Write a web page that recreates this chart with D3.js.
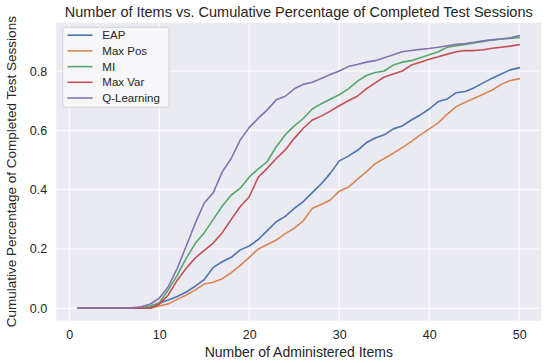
<!DOCTYPE html>
<html><head><meta charset="utf-8">
<script src="https://cdn.jsdelivr.net/npm/d3@7"></script>
<style>body{margin:0;background:#fff;} text{font-family:"Liberation Sans",Arial,sans-serif;}</style>
</head><body><svg id="c" width="547" height="363"></svg>
<script>
const items = d3.range(1, 51);
const seriesNames = ["EAP","Max Pos","MI","Max Var","Q-Learning"];
const colors = ["#4c72b0","#dd8452","#55a868","#c44e52","#8172b3"];
const eap = [0,0,0,0,0,0,0,0,0.003,0.017,0.028,0.04,0.055,0.075,0.097,0.138,0.157,0.172,0.197,0.21,0.232,0.262,0.292,0.31,0.337,0.36,0.39,0.42,0.455,0.497,0.513,0.532,0.558,0.574,0.585,0.605,0.615,0.635,0.652,0.672,0.697,0.706,0.727,0.731,0.744,0.76,0.776,0.79,0.804,0.811];
const maxPos = [0,0,0,0,0,0,0,0,0,0.008,0.015,0.03,0.045,0.062,0.082,0.088,0.1,0.12,0.145,0.172,0.2,0.215,0.23,0.252,0.27,0.295,0.337,0.35,0.365,0.395,0.408,0.435,0.46,0.488,0.505,0.523,0.542,0.562,0.585,0.605,0.625,0.655,0.68,0.695,0.708,0.722,0.736,0.755,0.768,0.774];
const mi = [0,0,0,0,0,0,0,0.002,0.008,0.019,0.062,0.112,0.169,0.219,0.255,0.3,0.345,0.382,0.405,0.443,0.47,0.495,0.545,0.585,0.615,0.64,0.672,0.69,0.705,0.72,0.74,0.765,0.785,0.795,0.80,0.82,0.83,0.835,0.845,0.855,0.865,0.88,0.885,0.89,0.895,0.9,0.905,0.908,0.91,0.913];
const maxVar = [0,0,0,0,0,0,0,0,0,0.014,0.045,0.095,0.135,0.17,0.195,0.22,0.255,0.3,0.343,0.376,0.442,0.472,0.505,0.534,0.573,0.607,0.635,0.648,0.665,0.683,0.70,0.715,0.74,0.76,0.78,0.79,0.80,0.82,0.83,0.84,0.848,0.857,0.865,0.869,0.869,0.872,0.877,0.88,0.884,0.889];
const qLearning = [0,0,0,0,0,0,0.002,0.005,0.0145,0.034,0.073,0.135,0.21,0.287,0.355,0.39,0.46,0.506,0.568,0.61,0.641,0.669,0.703,0.715,0.74,0.755,0.762,0.775,0.788,0.80,0.815,0.822,0.83,0.835,0.845,0.855,0.865,0.869,0.873,0.876,0.88,0.885,0.89,0.893,0.897,0.902,0.905,0.908,0.912,0.919];
const xTicks = [0,10,20,30,40,50];
const yTicks = [0,0.2,0.4,0.6,0.8];
const allSeries = [eap, maxPos, mi, maxVar, qLearning];

const svg = d3.select("#c");
const L = 56.25, R = 541.3, T = 22.7, B = 320.7;
const x = d3.scaleLinear().domain([-1.45, 52.45]).range([L, R]);
const y = d3.scaleLinear().domain([-0.0418, 0.963]).range([B, T]);

svg.append("rect").attr("x", L).attr("y", T).attr("width", R-L).attr("height", B-T).attr("fill", "#eaeaf2");
const g = svg.append("g");
g.selectAll(".vg").data(xTicks).join("line").attr("x1", d=>x(d)).attr("x2", d=>x(d)).attr("y1", T).attr("y2", B).attr("stroke", "#fff").attr("stroke-width", 1);
g.selectAll(".hg").data(yTicks).join("line").attr("y1", d=>y(d)).attr("y2", d=>y(d)).attr("x1", L).attr("x2", R).attr("stroke", "#fff").attr("stroke-width", 1);

const xAxis = svg.append("g").attr("transform", `translate(0,${B})`).call(d3.axisBottom(x).tickValues(xTicks).tickSize(0).tickPadding(9).tickFormat(d3.format("d")));
const yAxis = svg.append("g").attr("transform", `translate(${L},0)`).call(d3.axisLeft(y).tickValues(yTicks).tickSize(0).tickPadding(9).tickFormat(d3.format(".1f")));
[xAxis, yAxis].forEach(a => { a.select(".domain").remove(); a.selectAll("text").attr("font-size", 12.5).attr("fill", "#262626").style("font-family", "Liberation Sans, Arial, sans-serif"); });

const line = d3.line().x((d,i)=>x(items[i])).y(d=>y(d));
allSeries.forEach((s, k) => {
  svg.append("path").datum(s).attr("d", line).attr("fill", "none").attr("stroke", colors[k]).attr("stroke-width", 1.6).attr("stroke-linejoin", "round").attr("stroke-linecap", "square");
});

svg.append("text").attr("x", (L+R)/2).attr("y", 17).attr("text-anchor", "middle").attr("font-size", 14.5).attr("fill", "#262626").text("Number of Items vs. Cumulative Percentage of Completed Test Sessions");
svg.append("text").attr("x", (L+R)/2).attr("y", 357).attr("text-anchor", "middle").attr("font-size", 14).attr("fill", "#262626").text("Number of Administered Items");
svg.append("text").attr("transform", `translate(16,${(T+B)/2}) rotate(-90)`).attr("text-anchor", "middle").attr("font-size", 13.5).attr("fill", "#262626").text("Cumulative Percentage of Completed Test Sessions");

const lg = svg.append("g");
lg.append("rect").attr("x", 62.7).attr("y", 27.3).attr("width", 106.3).attr("height", 80).attr("rx", 3).attr("fill", "#f7f7fa").attr("stroke", "#cccccc").attr("stroke-width", 0.8);
seriesNames.forEach((n, k) => {
  const cy = 35.2 + k*15.7;
  lg.append("line").attr("x1", 67.5).attr("x2", 92.5).attr("y1", cy).attr("y2", cy).attr("stroke", colors[k]).attr("stroke-width", 1.6);
  lg.append("text").attr("x", 102.3).attr("y", cy + 4).attr("font-size", 11.5).attr("fill", "#262626").text(n);
});
</script></body></html>
